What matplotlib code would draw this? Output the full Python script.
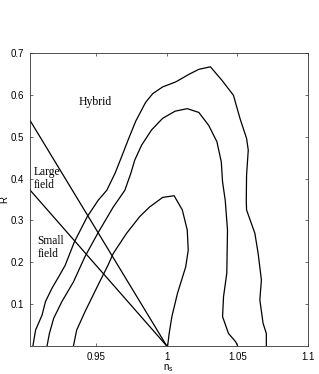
import matplotlib
matplotlib.use("Agg")
import matplotlib.pyplot as plt

# contour traces (n_s, R)
outer_ns = [0.9052, 0.9071, 0.9117, 0.9141, 0.9187, 0.9234, 0.9281, 0.9346, 0.9437, 0.9514,
            0.9575, 0.9633, 0.9680, 0.9726, 0.9780, 0.9850, 0.9901, 0.9971, 1.0064, 1.0157,
            1.0227, 1.0309, 1.0390, 1.0472, 1.0519, 1.0565, 1.0577, 1.0565, 1.0563, 1.0565,
            1.0624, 1.0647, 1.0670, 1.0659, 1.0682, 1.0705, 1.0705]
outer_r = [0.0, 0.038, 0.074, 0.106, 0.138, 0.165, 0.193, 0.249, 0.309, 0.348,
           0.372, 0.412, 0.452, 0.492, 0.537, 0.582, 0.603, 0.619, 0.631, 0.649,
           0.661, 0.667, 0.635, 0.599, 0.543, 0.496, 0.468, 0.408, 0.348, 0.325,
           0.269, 0.221, 0.158, 0.110, 0.054, 0.030, 0.0]

middle_ns = [0.9152, 0.9169, 0.9199, 0.9257, 0.9339, 0.9393, 0.9423, 0.9516, 0.9621, 0.9654,
             0.9703, 0.9745, 0.9773, 0.9822, 0.9892, 0.9971, 1.0059, 1.0145, 1.0227, 1.0297,
             1.0355, 1.0386, 1.0395, 1.0414, 1.0430, 1.0425, 1.0402, 1.0395, 1.0437, 1.0488,
             1.0502]
middle_r = [0.0, 0.030, 0.066, 0.106, 0.153, 0.193, 0.215, 0.272, 0.332, 0.348,
            0.372, 0.412, 0.444, 0.480, 0.516, 0.544, 0.561, 0.567, 0.558, 0.527,
            0.488, 0.440, 0.392, 0.348, 0.277, 0.174, 0.118, 0.070, 0.030, 0.010,
            0.0]

inner_ns = [0.9339, 0.9362, 0.9421, 0.9514, 0.9584, 0.9621, 0.9715, 0.9808, 0.9878, 0.9971,
            1.0052, 1.0110, 1.0145, 1.0152, 1.0134, 1.0076, 1.0036, 1.0017, 1.0006]
inner_r = [0.0, 0.038, 0.082, 0.146, 0.193, 0.221, 0.269, 0.309, 0.332, 0.355,
           0.359, 0.325, 0.277, 0.229, 0.189, 0.126, 0.070, 0.030, 0.0]

# boundary lines between model classes
large_ns = [0.9028, 1.0]
large_r = [0.541, 0.0]
small_ns = [0.9028, 1.0]
small_r = [0.374, 0.0]

xticks = [0.95, 1.0, 1.05, 1.1]
xticklabels = ['0.95', '1', '1.05', '1.1']
yticks = [0.1, 0.2, 0.3, 0.4, 0.5, 0.6, 0.7]
yticklabels = ['0.1', '0.2', '0.3', '0.4', '0.5', '0.6', '0.7']

plt.rcParams['font.family'] = ['Liberation Sans', 'DejaVu Sans']

fig = plt.figure(figsize=(3.19, 3.74), dpi=100)
ax = fig.add_axes([0.0925, 0.0749, 0.873, 0.7834])

for xs, ys in [(outer_ns, outer_r), (middle_ns, middle_r), (inner_ns, inner_r),
               (large_ns, large_r), (small_ns, small_r)]:
    ax.plot(xs, ys, color='black', lw=0.9, solid_joinstyle='miter')

ax.set_xlim(0.9028, 1.1)
ax.set_ylim(0, 0.7)
ax.set_xticks(xticks)
ax.set_xticklabels(xticklabels)
ax.set_yticks(yticks)
ax.set_yticklabels(yticklabels)
ax.tick_params(direction='in', length=2.5, width=0.5, labelsize=7, pad=4,
               top=True, right=True, colors='#333333', labelcolor='black')
for s in ax.spines.values():
    s.set_linewidth(0.6)
    s.set_color('#333333')

ax.set_xlabel('n$_\\mathregular{s}$', fontsize=7)
ax.xaxis.set_label_coords(0.5, -0.055)
ax.set_ylabel('R', fontsize=7)
ax.yaxis.set_label_coords(-0.072, 0.5)

serif = ['Liberation Serif', 'DejaVu Serif']
ax.text(0.9493, 0.582, 'Hybrid', family=serif, fontsize=8.5, ha='center', va='center')
ax.text(0.9058, 0.40, 'Large\nfield', family=serif, fontsize=8.3, ha='left', va='center',
        linespacing=1.15)
ax.text(0.9085, 0.236, 'Small\nfield', family=serif, fontsize=8.3, ha='left', va='center',
        linespacing=1.15)

fig.savefig('out.png', dpi=100)
